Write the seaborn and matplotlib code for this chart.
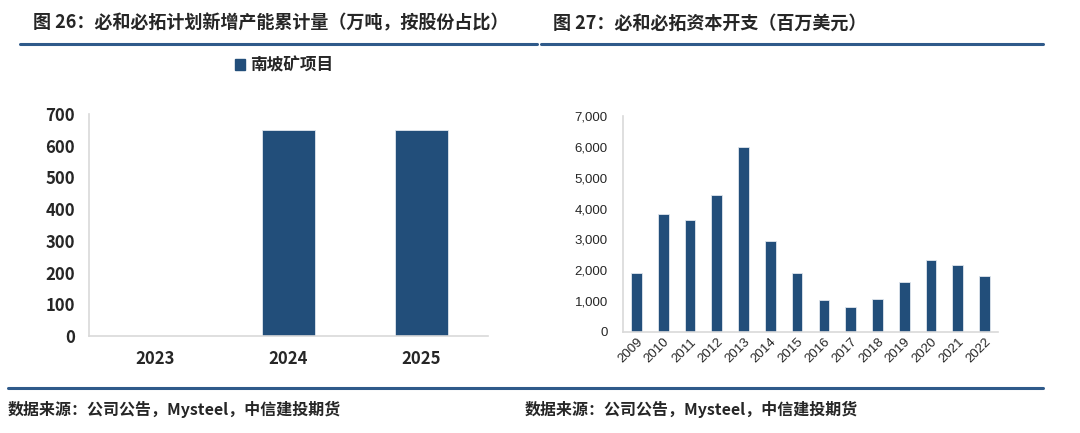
import matplotlib
matplotlib.use("Agg")
import matplotlib.pyplot as plt
import seaborn as sns
import pandas as pd
from matplotlib.lines import Line2D
from matplotlib.patches import Patch
from matplotlib.ticker import FuncFormatter

# 数据
cap_years = ["2023", "2024", "2025"]
cap_values = [0, 650, 650]
cap_label = "南坡矿项目"

capex_years = [str(y) for y in range(2009, 2023)]
capex_values = [1910, 3830, 3620, 4440, 5980, 2940, 1920, 1050, 800, 1070, 1610, 2320, 2180, 1830]

title_left = "图 26：必和必拓计划新增产能累计量（万吨，按股份占比）"
title_right = "图 27：必和必拓资本开支（百万美元）"
source_text = "数据来源：公司公告，Mysteel，中信建投期货"

bar_color = "#224e7a"
line_color = "#2f5a8a"
axis_color = "#d9d9d9"

sns.set_style("white")
plt.rcParams['font.family'] = ['Noto Sans CJK SC', 'DejaVu Sans']

W, H = 1080, 433
fig = plt.figure(figsize=(W / 100, H / 100), dpi=100)


def px_axes(x0, y0, x1, y1):
    # 像素坐标 -> figure 坐标
    return fig.add_axes([x0 / W, 1 - y1 / H, (x1 - x0) / W, (y1 - y0) / H])


def style_axes(ax):
    for side in ["top", "right"]:
        ax.spines[side].set_visible(False)
    for side in ["left", "bottom"]:
        ax.spines[side].set_color(axis_color)
        ax.spines[side].set_linewidth(1.2)
    ax.set_xlabel("")
    ax.set_ylabel("")


# 左图
df1 = pd.DataFrame({"year": cap_years, "value": cap_values})
ax1 = px_axes(89, 114, 488, 336)
sns.barplot(data=df1, x="year", y="value", color=bar_color, width=0.4,
            saturation=1, edgecolor="#dfe6ee", linewidth=0.6, ax=ax1)
style_axes(ax1)
ax1.set_ylim(0, 700)
ax1.set_yticks(range(0, 701, 100))
ax1.set_xlim(-0.5, 2.5)
ax1.tick_params(axis="y", length=4, color=axis_color, labelsize=12, pad=6)
ax1.tick_params(axis="x", length=0, labelsize=12, pad=10)
for lab in ax1.get_xticklabels() + ax1.get_yticklabels():
    lab.set_fontweight("bold")
ax1.legend(handles=[Patch(color=bar_color, label=cap_label)], loc="center",
           bbox_to_anchor=(0.49, 1.22), frameon=False, handlelength=0.6,
           handleheight=0.6, handletextpad=0.3,
           prop={"family": "Noto Sans CJK SC", "weight": "bold", "size": 12})

# 右图
df2 = pd.DataFrame({"year": capex_years, "value": capex_values})
ax2 = px_axes(623, 116, 998, 332)
sns.barplot(data=df2, x="year", y="value", color=bar_color, width=0.4,
            saturation=1, edgecolor="#dfe6ee", linewidth=0.6, ax=ax2)
style_axes(ax2)
ax2.set_ylim(0, 7000)
ax2.set_yticks(range(0, 7001, 1000))
ax2.set_xlim(-0.5, len(capex_years) - 0.5)
ax2.yaxis.set_major_formatter(FuncFormatter(lambda v, p: f"{int(v):,}"))
ax2.set_xticks([i - 0.5 for i in range(len(capex_years) + 1)], minor=True)
ax2.tick_params(axis="y", length=4, color=axis_color, labelsize=9.5, pad=7)
ax2.tick_params(axis="x", which="major", length=0, labelsize=9.5, pad=3)
ax2.tick_params(axis="x", which="minor", length=4, color=axis_color)
for lab in ax2.get_xticklabels() + ax2.get_yticklabels():
    lab.set_fontfamily("Liberation Sans")
for lab in ax2.get_xticklabels():
    lab.set_rotation(45)
    lab.set_ha("right")
    lab.set_rotation_mode("anchor")

# 标题与横线
fig.text(33 / W, 1 - 23 / H, title_left, fontsize=13, fontweight="bold",
         va="center", ha="left")
fig.text(553 / W, 1 - 23 / H, title_right, fontsize=13, fontweight="bold",
         va="center", ha="left")
fig.add_artist(Line2D([20 / W, 537 / W], [1 - 44 / H] * 2, color=line_color, lw=2.2))
fig.add_artist(Line2D([541 / W, 1043 / W], [1 - 44 / H] * 2, color=line_color, lw=2.2))
fig.add_artist(Line2D([8 / W, 1043 / W], [1 - 388 / H] * 2, color=line_color, lw=2.2))

# 数据来源
fig.text(8 / W, 1 - 409 / H, source_text, fontsize=11.5, fontweight="bold",
         style="italic", va="center", ha="left")
fig.text(525 / W, 1 - 409 / H, source_text, fontsize=11.5, fontweight="bold",
         style="italic", va="center", ha="left")

fig.savefig("out.png", dpi=100)
